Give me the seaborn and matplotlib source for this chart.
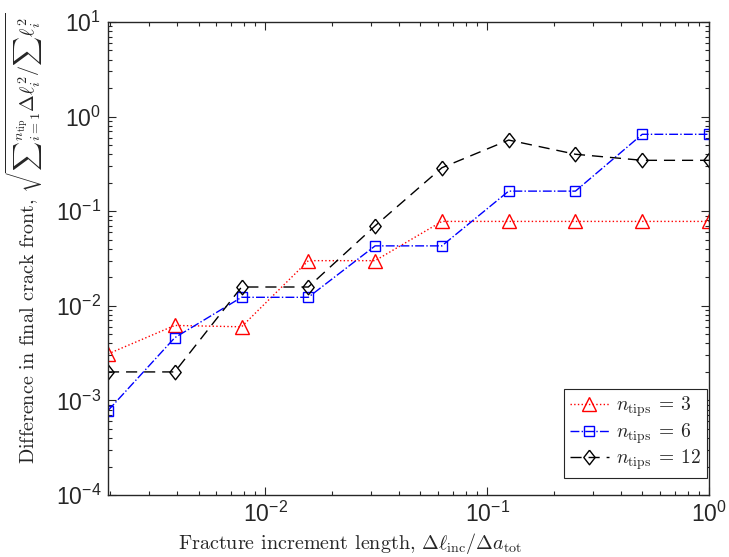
import numpy as np
import pandas as pd
import matplotlib
matplotlib.use('Agg')
import matplotlib.pyplot as plt
from matplotlib.ticker import LogLocator, NullFormatter
import seaborn as sns

# Data
increment = [2**-9, 2**-8, 2**-7, 2**-6, 2**-5, 2**-4, 2**-3, 2**-2, 2**-1, 1.0]
diff_3 = [0.0031, 0.0062, 0.0060, 0.030, 0.030, 0.078, 0.078, 0.078, 0.078, 0.078]
diff_6 = [0.00078, 0.0046, 0.0123, 0.0123, 0.043, 0.043, 0.163, 0.163, 0.65, 0.65]
diff_12 = [0.0020, 0.0020, 0.0158, 0.0158, 0.070, 0.288, 0.565, 0.40, 0.345, 0.345]
labels = [r'$n_{\mathrm{tips}}\:=\:3$', r'$n_{\mathrm{tips}}\:=\:6$', r'$n_{\mathrm{tips}}\:=\:12$']

sns.set_style('ticks')
plt.rcParams['font.family'] = ['Liberation Sans', 'DejaVu Sans']
plt.rcParams['mathtext.fontset'] = 'cm'
plt.rcParams['axes.unicode_minus'] = False

fig = plt.figure(figsize=(7.29, 5.57), dpi=100)
ax = fig.add_axes([108/729, 62/557, 601/729, 473/557])

diamond = [(0, 1), (0.78, 0), (0, -1), (-0.78, 0), (0, 1)]
series = [
    (diff_3, 'red', ':', '^', 9.5),
    (diff_6, 'blue', '-.', 's', 7.0),
    (diff_12, 'black', (0, (8, 5)), diamond, 10.5),
]

for (vals, col, ls, mk, ms), lab in zip(series, labels):
    df = pd.DataFrame({'x': increment, 'y': vals})
    sns.lineplot(data=df, x='x', y='y', ax=ax, color=col, linestyle=ls, linewidth=1.0,
                 marker=mk, markersize=ms, markerfacecolor='none',
                 markeredgecolor=col, markeredgewidth=1.0, label=lab, legend=False)

ax.set_xscale('log')
ax.set_yscale('log')
ax.set_xlim(2**-9, 1)
ax.set_ylim(1e-4, 1e1)
ax.xaxis.set_major_locator(LogLocator(base=10, numticks=10))
ax.xaxis.set_minor_locator(LogLocator(base=10, subs=np.arange(2, 10), numticks=20))
ax.yaxis.set_major_locator(LogLocator(base=10, numticks=10))
ax.yaxis.set_minor_locator(LogLocator(base=10, subs=np.arange(2, 10), numticks=20))
ax.xaxis.set_minor_formatter(NullFormatter())
ax.yaxis.set_minor_formatter(NullFormatter())

for s in ax.spines.values():
    s.set_visible(True)
    s.set_color('#262626')
    s.set_linewidth(1.0)
ax.tick_params(which='both', direction='in', top=True, right=True, colors='#262626',
               labelsize=16.5, labelcolor='#262626')
ax.tick_params(which='major', length=6, width=0.8, pad=5)
ax.tick_params(which='minor', length=3, width=0.8)

ax.set_xlabel(r'Fracture increment length, $\Delta\ell_{\mathrm{inc}}/\Delta a_{\mathrm{tot}}$',
              fontfamily='cmr10', fontsize=14.5)
ax.set_ylabel(r'Difference in final crack front, $\sqrt{{\sum}_{i=1}^{n_{\mathrm{tip}}}\Delta\ell_i^2/{\sum}\ell_i^2}$',
              fontfamily='cmr10', fontsize=14.5)
ax.xaxis.set_label_coords(0.403, -0.076)
ax.yaxis.set_label_coords(-0.105, 0.542)

leg = ax.legend(loc='lower right', bbox_to_anchor=(0.9967, 0.036), borderaxespad=0,
                fontsize=14, frameon=True, fancybox=False, framealpha=1,
                handlelength=2.0, labelspacing=0.1, borderpad=0.3, handletextpad=0.4)
leg.get_frame().set_edgecolor('#262626')
leg.get_frame().set_linewidth(0.8)

fig.savefig('out.png', dpi=100)
